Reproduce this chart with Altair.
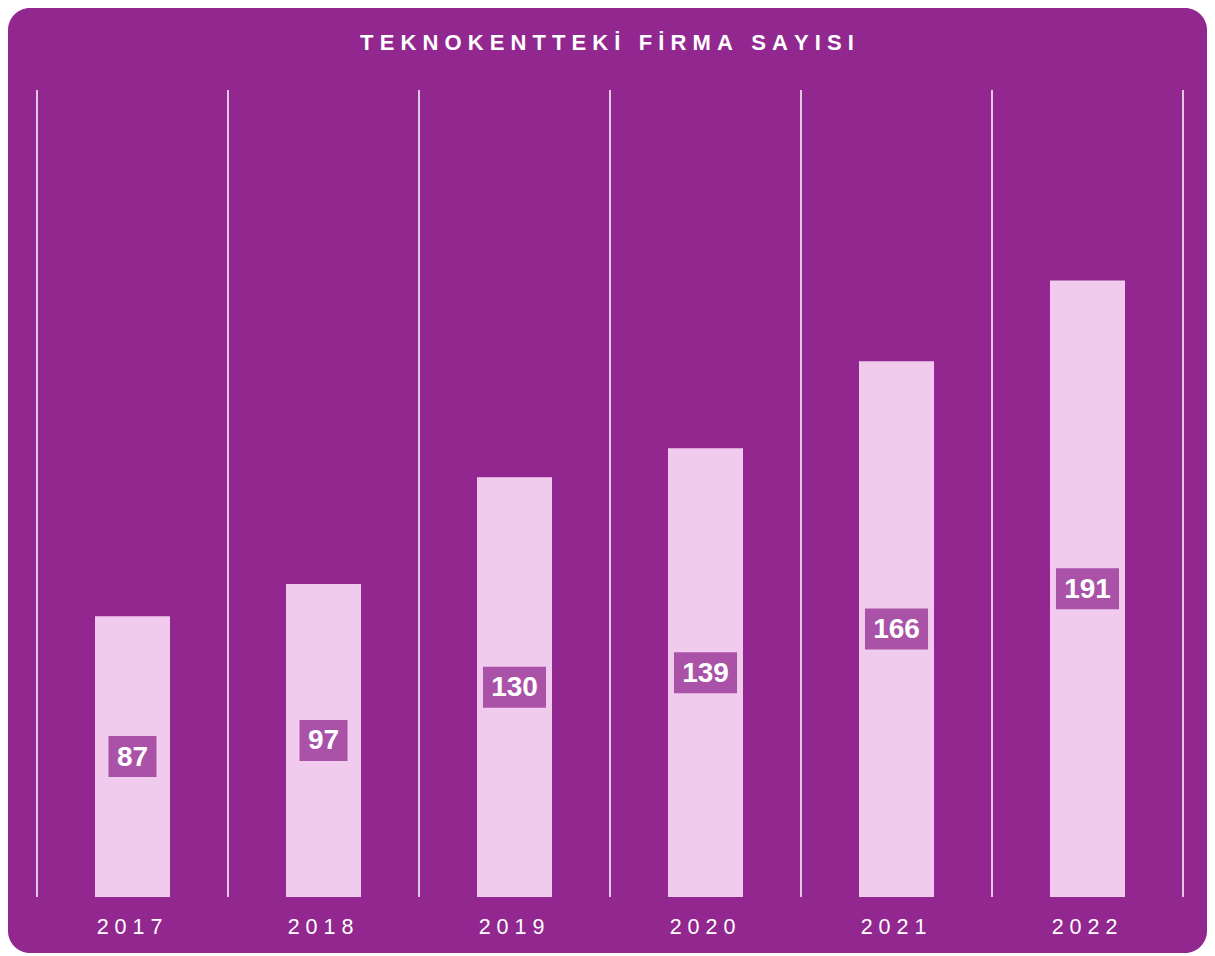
import altair as alt
import pandas as pd

# ---- data ----
years = ["2017", "2018", "2019", "2020", "2021", "2022"]
counts = [87, 97, 130, 139, 166, 191]
title_text = "TEKNOKENTTEKİ FİRMA SAYISI"

df = pd.DataFrame({"year": years, "count": counts})
title_df = pd.DataFrame({"title": [title_text]})

# ---- layout / style ----
W, H = 1146, 807
PAD = {"left": 29, "top": 82, "right": 24, "bottom": 56}
BG = "#92278f"
BAR = "#f0cbee"
BOX = "#a952a8"
FONT = "Liberation Sans"
NBSP = "\u00a0"
# letter-spacing look: a non-breaking space between characters
SPACED = "join(split(datum.{f}, ''), '" + NBSP + "')"

x_band = alt.X("year:N", sort=years,
               scale=alt.Scale(paddingInner=0, paddingOuter=0), axis=None)
y_scale = alt.Scale(domain=[0, 250])

base = alt.Chart(df)

background = alt.Chart(pd.DataFrame({"k": [0]})).mark_rect(
    color=BG, cornerRadius=22
).encode(
    x=alt.value(-PAD["left"]), x2=alt.value(W + PAD["right"]),
    y=alt.value(-PAD["top"]), y2=alt.value(H + PAD["bottom"]),
)

separators = base.mark_rule(color="white", strokeWidth=1.5).encode(
    x=alt.X("year:N", sort=years, bandPosition=0, axis=None),
    y=alt.value(0), y2=alt.value(H),
)
last_sep = alt.Chart(pd.DataFrame({"k": [0]})).mark_rule(
    color="white", strokeWidth=1.5
).encode(x=alt.value(W), y=alt.value(0), y2=alt.value(H))

bars = base.mark_bar(color=BAR, width=75).encode(
    x=x_band,
    y=alt.Y("count:Q", scale=y_scale, axis=None),
)

path2 = "M-1.171,-1 L1.171,-1 L1.171,1 L-1.171,1 Z"
path3 = "M-1.537,-1 L1.537,-1 L1.537,1 L-1.537,1 Z"

mid = base.transform_calculate(
    mid="datum.count / 2",
    digits="length(toString(datum.count))",
)

boxes = mid.mark_point(filled=True, opacity=1, color=BOX, size=1681,
                       strokeWidth=0).encode(
    x=alt.X("year:N", sort=years, axis=None),
    y=alt.Y("mid:Q", scale=y_scale, axis=None),
    shape=alt.Shape("digits:O", scale=alt.Scale(domain=[2, 3], range=[path2, path3]),
                    legend=None),
)

labels = mid.mark_text(color="white", font=FONT, fontSize=28,
                       fontWeight="bold", baseline="middle", dy=1).encode(
    x=alt.X("year:N", sort=years, axis=None),
    y=alt.Y("mid:Q", scale=y_scale, axis=None),
    text=alt.Text("count:Q"),
)

year_labels = base.transform_calculate(
    spaced=SPACED.format(f="year")
).mark_text(color="white", font=FONT, fontSize=21.5, baseline="alphabetic",
            dx=-3).encode(
    x=alt.X("year:N", sort=years, axis=None),
    y=alt.value(H + 37),
    text="spaced:N",
)

title = alt.Chart(title_df).transform_calculate(
    spaced=SPACED.format(f="title")
).mark_text(color="white", font=FONT, fontSize=22, fontWeight="bold",
            baseline="alphabetic", dx=-3).encode(
    x=alt.value(W / 2), y=alt.value(-40.5), text="spaced:N",
)

chart = alt.layer(
    background, separators, last_sep, bars, boxes, labels, year_labels, title
).properties(
    width=W, height=H,
    padding=PAD,
    autosize=alt.AutoSizeParams(type="none"),
    background="white",
).configure_view(stroke=None)

chart.save("out.html", embed_options={"renderer": "svg", "actions": False})
